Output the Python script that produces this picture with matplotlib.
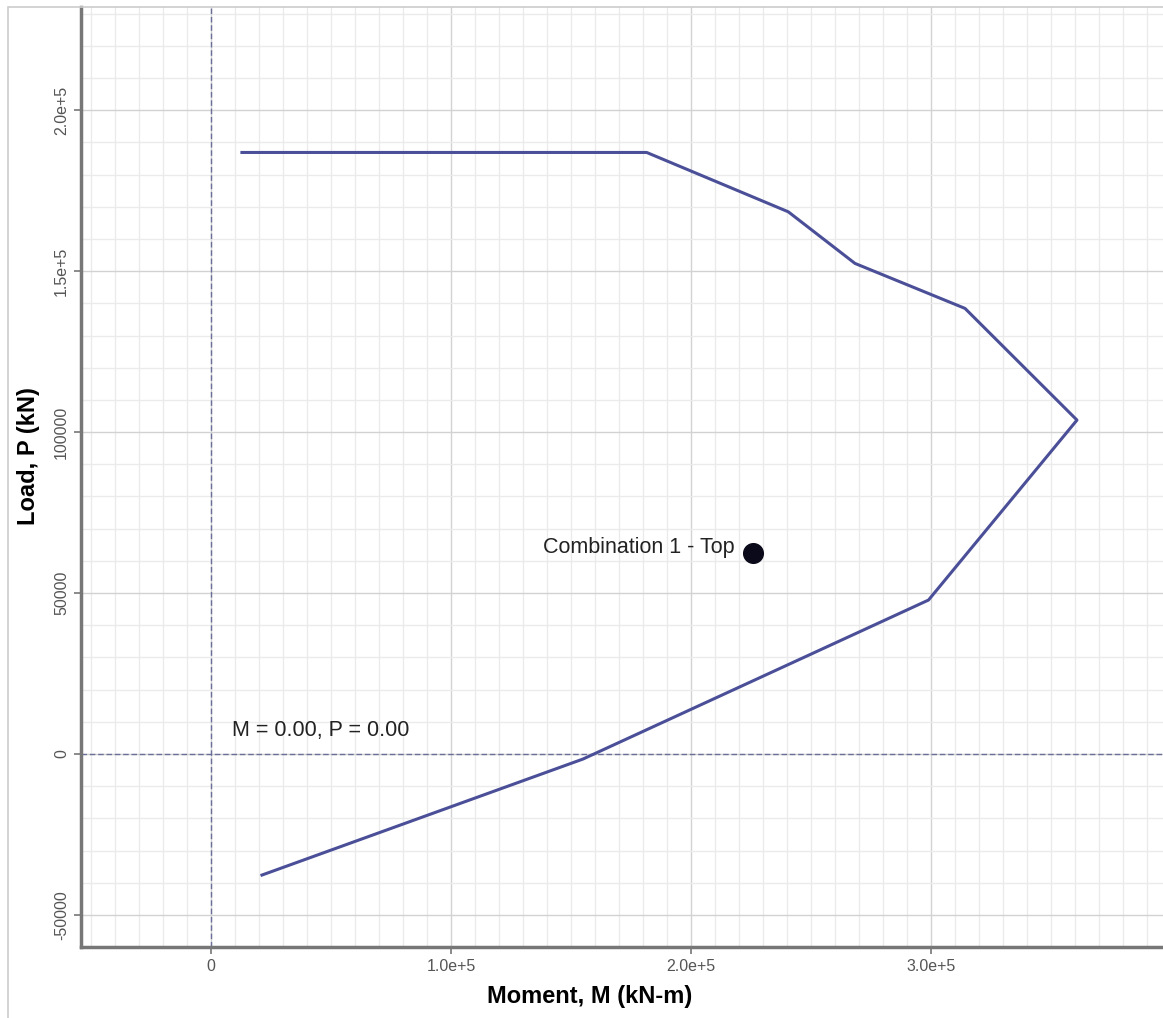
import matplotlib
matplotlib.use("Agg")
import matplotlib.pyplot as plt
from matplotlib.ticker import FixedLocator, MultipleLocator
from matplotlib.patches import Rectangle

plt.rcParams["font.family"] = ["Liberation Sans", "DejaVu Sans"]

# interaction diagram (M, P)
moment = [12900, 181540, 240540, 268330, 314170, 360830, 298960, 155000, 21250]
load = [186850, 186850, 168420, 152390, 138420, 103730, 47830, -1550, -37580]

# load combination point
combo_m = [225800]
combo_p = [62420]
combo_label = "Combination 1 - Top"

x_ticks = [0, 100000, 200000, 300000]
x_labels = ["0", "1.0e+5", "2.0e+5", "3.0e+5"]
y_ticks = [-50000, 0, 50000, 100000, 150000, 200000]
y_labels = ["-50000", "0", "50000", "100000", "1.5e+5", "2.0e+5"]

line_color = "#4a4f98"
ref_color = "#6a6f9a"
text_color = "#222222"

fig = plt.figure(figsize=(11.63, 10.18), dpi=100)
fig.patches.append(Rectangle((0.007, -0.01), 1.2, 1.003, transform=fig.transFigure,
                             fill=False, edgecolor="#cccccc", linewidth=1.2))
ax = fig.add_axes([0.0696, 0.0697, 0.9304, 0.9233])

ax.set_xlim(-54170, 396670)
ax.set_ylim(-59940, 231990)

ax.xaxis.set_major_locator(FixedLocator(x_ticks))
ax.yaxis.set_major_locator(FixedLocator(y_ticks))
ax.xaxis.set_minor_locator(MultipleLocator(10000))
ax.yaxis.set_minor_locator(MultipleLocator(10000))
ax.set_xticklabels(x_labels)
ax.set_yticklabels(y_labels, rotation=90, va="center")

ax.grid(which="minor", color="#ebebeb", linewidth=1.0)
ax.grid(which="major", color="#d2d2d2", linewidth=1.0)
ax.set_axisbelow(True)

for s in ["top", "right"]:
    ax.spines[s].set_visible(False)
for s in ["left", "bottom"]:
    ax.spines[s].set_color("#777777")
    ax.spines[s].set_linewidth(2.5)

ax.tick_params(which="major", length=5, width=1.2, color="#777777",
               labelsize=11.5, labelcolor="#555555")
ax.tick_params(which="minor", length=0)

ax.axvline(0, color=ref_color, linestyle=(0, (4, 2)), linewidth=1.0, zorder=1)
ax.axhline(0, color=ref_color, linestyle=(0, (4, 2)), linewidth=1.0, zorder=1)

ax.plot(moment, load, color=line_color, linewidth=2.2, solid_joinstyle="round", zorder=3)
ax.scatter(combo_m, combo_p, s=200, color="#0a0a1a", zorder=5)

ax.text(8750, 7450, "M = 0.00, P = 0.00", fontsize=15.5, color=text_color,
        ha="left", va="center")
ax.text(combo_m[0] - 7500, combo_p[0] + 1600, combo_label, fontsize=15.5,
        color=text_color, ha="right", va="center")

ax.set_xlabel("Moment, M (kN-m)", fontsize=17, fontweight="bold", labelpad=4)
ax.set_ylabel("Load, P (kN)", fontsize=17, fontweight="bold", labelpad=2)
ax.xaxis.set_label_coords(0.470, -0.040)
ax.yaxis.set_label_coords(-0.038, 0.522)

fig.savefig("out.png", dpi=100)
